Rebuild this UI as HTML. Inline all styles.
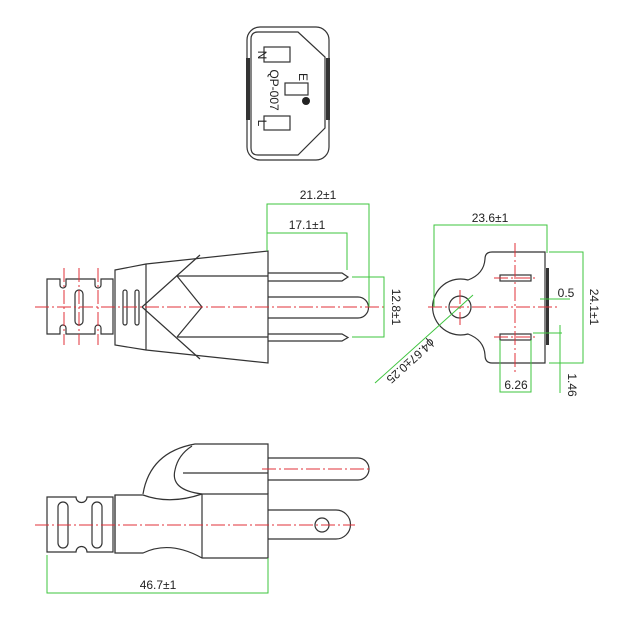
<!DOCTYPE html>
<html><head><meta charset="utf-8"><style>
html,body{margin:0;padding:0;background:#fff;}
svg{display:block;}
text{font-family:"Liberation Sans",sans-serif;font-size:12px;fill:#222;}
</style></head><body>
<svg width="640" height="640" viewBox="0 0 640 640" xmlns="http://www.w3.org/2000/svg">
<g fill="none" stroke="#333" stroke-width="1.2">
<rect x="247" y="27" width="82" height="133" rx="13"/>
<path d="M258,32 H298 L325,57 V128 L298,155 H258 Q251,155 251,148 V39 Q251,32 258,32 Z"/>
<rect x="264" y="47" width="26" height="15"/>
<rect x="264" y="116" width="26" height="14"/>
<rect x="285" y="83" width="23" height="12"/>
</g>
<rect x="246" y="58" width="4" height="62" fill="#333"/>
<rect x="326" y="58" width="4" height="62" fill="#333"/>
<circle cx="306" cy="101" r="4" fill="#222"/>
<text x="258" y="55" font-size="10" transform="rotate(90 258 55)" text-anchor="middle">N</text>
<text x="258" y="123" font-size="10" transform="rotate(90 258 123)" text-anchor="middle">L</text>
<text x="299" y="77" font-size="10" transform="rotate(90 299 77)" text-anchor="middle">E</text>
<text x="270" y="90" font-size="10" transform="rotate(90 270 90)" text-anchor="middle">QP-007</text>

<g fill="none" stroke="#333" stroke-width="1.2">
<path d="M47,279 H60 V285 A3,3 0 0 0 66,285 V279 H95 V285 A3,3 0 0 0 101,285 V279 H113 V334 H101 V328 A3,3 0 0 0 95,328 V334 H66 V328 A3,3 0 0 0 60,328 V334 H47 Z"/>
<rect x="75" y="290" width="8" height="35" rx="4"/>
<path d="M115,270 L146,264 L268,251 V363 L146,350 L115,345 Z"/>
<line x1="146" y1="264" x2="146" y2="350"/>
<rect x="123" y="290" width="4" height="35" rx="2"/>
<rect x="135" y="290" width="4" height="35" rx="2"/>
<line x1="177" y1="276" x2="268" y2="276"/>
<line x1="177" y1="337" x2="268" y2="337"/>
<path d="M200,255 L142,307 L200,359"/>
<path d="M177,276 L202,307 L177,337"/>
<path d="M268,273 H342 L348,277 L342,281 H268"/>
<path d="M268,334 H342 L348,337.5 L342,341 H268"/>
<path d="M268,297 H358 A10.5,10.5 0 0 1 358,318 H268"/>
<path d="M492,252 H545 V363 H492 Q485,363 485,355 Q484,340 468,334 A28,28 0 1 1 468,280 Q484,274 485,259 Q485,252 492,252 Z"/>
<circle cx="460" cy="307" r="11"/>
<rect x="500" y="275" width="31" height="6"/>
<rect x="500" y="334" width="31" height="6"/>
<path d="M47,497 H76 A5,5 0 0 0 87,497 H113 V552 H87 A5,5 0 0 0 76,552 H47 Z"/>
<rect x="58" y="502" width="10" height="46" rx="5"/>
<rect x="92" y="502" width="10" height="46" rx="5"/>
<path d="M115,495 H143 Q170,505 202,494 L268,494 V558 H202 Q170,540 143,553 H115 Z"/>
<line x1="115" y1="495" x2="115" y2="553"/>
<line x1="202" y1="494" x2="202" y2="558"/>
<path d="M143,494 Q150,452 195,444 H268 V494"/>
<path d="M202,494 Q170,490 175,470 Q178,455 192,446"/>
<line x1="183" y1="473" x2="268" y2="473"/>
<path d="M268,458 H358 A11,11 0 0 1 358,480 H268"/>
<path d="M268,510 H336 A14.5,14.5 0 0 1 336,539 H268"/>
<circle cx="322" cy="525" r="7"/>
</g>
<rect x="546" y="268" width="3" height="77" fill="#333"/>

<g stroke="#e0303a" stroke-width="1" stroke-dasharray="14,3,2,3" fill="none">
<line x1="35" y1="307" x2="385" y2="307"/>
<line x1="64" y1="268" x2="64" y2="345"/>
<line x1="79" y1="268" x2="79" y2="345"/>
<line x1="98" y1="268" x2="98" y2="345"/>
<line x1="428" y1="307" x2="560" y2="307"/>
<line x1="515" y1="243" x2="515" y2="372"/>
<line x1="460" y1="290" x2="460" y2="325"/>
<line x1="494" y1="278" x2="537" y2="278"/>
<line x1="494" y1="337" x2="537" y2="337"/>
<line x1="35" y1="525" x2="355" y2="525"/>
<line x1="262" y1="469" x2="372" y2="469"/>
</g>

<g stroke="#3ec43e" stroke-width="1" fill="none">
<path d="M267,251 V204 H369 V307"/>
<path d="M267,233 H347 V270"/>
<path d="M352,277 H384 V337 H352"/>
<path d="M434,307 V225 H547 V253"/>
<path d="M549,252 H583 V363 H549"/>
<line x1="540" y1="299" x2="570" y2="299"/>
<line x1="560" y1="325" x2="560" y2="393"/>
<line x1="533" y1="333" x2="562" y2="333"/>
<path d="M500,340 V392 H531 V340"/>
<line x1="473" y1="295" x2="375" y2="383"/>
<path d="M47,555 V593 H268 V558"/>
</g>
<text x="318" y="199" text-anchor="middle">21.2±1</text>
<text x="307" y="229" text-anchor="middle">17.1±1</text>
<text x="392" y="307" text-anchor="middle" transform="rotate(90 392 307)">12.8±1</text>
<text x="490" y="222" text-anchor="middle">23.6±1</text>
<text x="566" y="297" text-anchor="middle">0.5</text>
<text x="590" y="307" text-anchor="middle" transform="rotate(90 590 307)">24.1±1</text>
<text x="516" y="389" text-anchor="middle">6.26</text>
<text x="568" y="385" text-anchor="middle" transform="rotate(90 568 385)">1.46</text>
<text x="408" y="358" font-size="11" text-anchor="middle" transform="rotate(138 408 358)">ϕ4.67±0.25</text>
<text x="158" y="589" text-anchor="middle">46.7±1</text>
</svg>
</body></html>
